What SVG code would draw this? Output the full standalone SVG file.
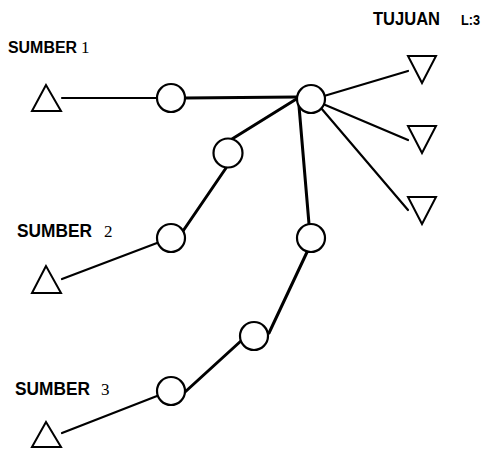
<svg xmlns="http://www.w3.org/2000/svg" width="482" height="450" viewBox="0 0 482 450">
<style>
.n{fill:#fff;stroke:#000;stroke-width:2.2}
.t{fill:#fff;stroke:#000;stroke-width:2;stroke-linejoin:miter}
.c{stroke:#000;fill:none;stroke-linecap:round}
.thin{stroke-width:2.2}
.thick{stroke-width:3}
.lbl{font-family:"Liberation Sans",Arial,sans-serif;font-weight:bold;fill:#000}
.num{font-family:"Liberation Serif","Times New Roman",serif;fill:#000}
</style>
<rect width="482" height="450" fill="#fff"/>
<g id="connectors">
<line class="c thin" x1="62" y1="98" x2="157" y2="98"/>
<line class="c thick" x1="185" y1="98" x2="297" y2="97"/>
<line class="c thin" x1="62" y1="279" x2="157" y2="243"/>
<line class="c thick" x1="183" y1="231" x2="226" y2="168"/>
<line class="c thick" x1="232" y1="139" x2="298" y2="98"/>
<line class="c thin" x1="62" y1="433" x2="157" y2="396"/>
<line class="c thick" x1="185" y1="392" x2="242" y2="340"/>
<line class="c thick" x1="269" y1="333" x2="308" y2="250"/>
<line class="c thick" x1="299" y1="106" x2="309" y2="224"/>
<line class="c thin" x1="324" y1="96" x2="408" y2="71"/>
<line class="c thin" x1="323" y1="104" x2="408" y2="140"/>
<line class="c thin" x1="321" y1="108" x2="408" y2="210"/>
</g>
<g id="sumber1">
<polygon class="t" points="46,85 32,111 61,111"/>
<text class="lbl" x="8" y="53" font-size="16" textLength="69" lengthAdjust="spacingAndGlyphs">SUMBER</text>
<text class="num" x="81" y="53" font-size="17">1</text>
</g>
<g id="sumber2">
<polygon class="t" points="46,266 32,293 61,293"/>
<text class="lbl" x="17" y="237" font-size="18" textLength="75" lengthAdjust="spacingAndGlyphs">SUMBER</text>
<text class="num" x="104" y="237" font-size="17">2</text>
</g>
<g id="sumber3">
<polygon class="t" points="46,422 32,447 61,447"/>
<text class="lbl" x="15" y="395" font-size="18" textLength="75" lengthAdjust="spacingAndGlyphs">SUMBER</text>
<text class="num" x="101" y="395" font-size="17">3</text>
</g>
<g id="tujuan">
<text class="lbl" x="373" y="25" font-size="18" textLength="67" lengthAdjust="spacingAndGlyphs">TUJUAN</text>
<text class="lbl" x="461" y="25" font-size="15" textLength="19" lengthAdjust="spacingAndGlyphs">L:3</text>
</g>
<g id="t1"><polygon class="t" points="408,56 436,56 422,83"/></g>
<g id="t2"><polygon class="t" points="408,126 436,126 422,153"/></g>
<g id="t3"><polygon class="t" points="408,197 436,197 422,224"/></g>
<g id="c1"><circle class="n" cx="171" cy="98" r="14"/></g>
<g id="hub"><circle class="n" cx="311" cy="99" r="14"/></g>
<g id="c2a"><circle class="n" cx="228" cy="153" r="14.5"/></g>
<g id="c2b"><circle class="n" cx="171" cy="238" r="14"/></g>
<g id="c3a"><circle class="n" cx="171" cy="391" r="14"/></g>
<g id="c3b"><circle class="n" cx="254" cy="336" r="14"/></g>
<g id="c4"><circle class="n" cx="311" cy="238" r="14"/></g>
</svg>
